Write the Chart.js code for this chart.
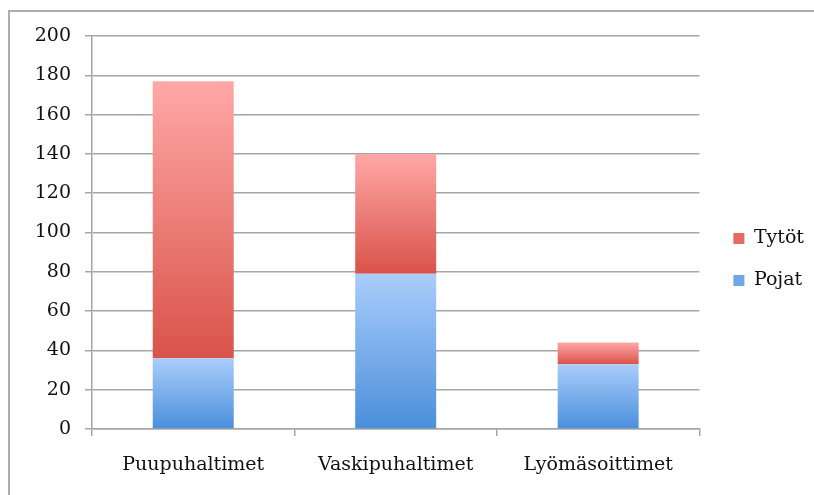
<!DOCTYPE html>
<html>
<head>
<meta charset="utf-8">
<script src="https://cdn.jsdelivr.net/npm/chart.js@4/dist/chart.umd.min.js"></script>
<style>
  html, body { margin: 0; padding: 0; background: #fff; }
  #wrap { position: relative; width: 814px; height: 495px; overflow: hidden; }
  #frame { position: absolute; left: 8px; top: 10px; width: 900px; height: 600px;
           border-top: 2px solid #adadad; border-left: 2px solid #adadad; }
  #chart { position: absolute; left: 0; top: 0; }
</style>
</head>
<body>
<div id="wrap">
  <div id="frame"></div>
  <canvas id="chart" width="814" height="495"></canvas>
</div>
<script>
// data
const categories = ["Puupuhaltimet", "Vaskipuhaltimet", "Lyömäsoittimet"];
const pojat = [36, 79, 33];
const tytot = [141, 61, 11];
const yTicks = [0, 20, 40, 60, 80, 100, 120, 140, 160, 180, 200];

const FONT = "'DejaVu Serif', serif";

// vertical gradient per bar segment, light at top
function segGradient(c, light, dark) {
  const chart = c.chart;
  const y = chart.scales.y;
  if (!y || c.dataIndex === undefined || !chart.chartArea) return dark;
  const i = c.dataIndex;
  const start = c.datasetIndex === 0 ? 0 : pojat[i];
  const end = start + c.dataset.data[i];
  const top = y.getPixelForValue(end);
  const bot = y.getPixelForValue(start);
  if (!isFinite(top) || !isFinite(bot) || top === bot) return dark;
  const g = chart.ctx.createLinearGradient(0, top, 0, bot);
  g.addColorStop(0, light);
  g.addColorStop(1, dark);
  return g;
}

const ctx = document.getElementById("chart").getContext("2d");
new Chart(ctx, {
  type: "bar",
  data: {
    labels: categories,
    datasets: [
      {
        label: "Pojat",
        data: pojat,
        solid: "#6fa6ea",
        backgroundColor: c => segGradient(c, "#aacdfb", "#4a8fdb"),
        categoryPercentage: 0.8,
        barPercentage: 0.5
      },
      {
        label: "Tytöt",
        data: tytot,
        solid: "#e46a62",
        backgroundColor: c => segGradient(c, "#ffa8a6", "#d9534a"),
        categoryPercentage: 0.8,
        barPercentage: 0.5
      }
    ]
  },
  options: {
    responsive: false,
    animation: false,
    layout: { padding: { left: 0, top: 36, right: 0, bottom: 12 } },
    plugins: {
      tooltip: { enabled: false },
      legend: {
        position: "right",
        reverse: true,
        labels: {
          boxWidth: 11,
          boxHeight: 11,
          padding: 23,
          color: "#111",
          font: { family: FONT, size: 19 },
          generateLabels: chart => {
            const items = Chart.defaults.plugins.legend.labels.generateLabels(chart);
            items.forEach(it => {
              it.fillStyle = chart.data.datasets[it.datasetIndex].solid;
              it.strokeStyle = "rgba(0,0,0,0)";
              it.lineWidth = 0;
            });
            return items;
          }
        }
      }
    },
    scales: {
      x: {
        stacked: true,
        grid: { drawOnChartArea: false, drawTicks: true, tickLength: 7, color: "#a6a6a6", lineWidth: 1.5 },
        border: { color: "#a6a6a6", width: 1.5 },
        ticks: { color: "#111", padding: 18, font: { family: FONT, size: 19 } },
        afterFit: s => { s.height = 54; }
      },
      y: {
        stacked: true,
        min: 0,
        max: 200,
        afterBuildTicks: s => { s.ticks = yTicks.map(v => ({ value: v })); },
        grid: { color: "#a6a6a6", lineWidth: 1.5, tickLength: 7 },
        border: { color: "#a6a6a6", width: 1.5 },
        ticks: { color: "#111", padding: 14, font: { family: FONT, size: 19 } },
        afterFit: s => { s.width = 92; }
      },
      gap: {
        type: "linear",
        position: "right",
        display: true,
        grid: { display: false },
        border: { display: false },
        ticks: { display: false },
        afterFit: s => { s.width = 11; }
      }
    }
  }
});
</script>
</body>
</html>
